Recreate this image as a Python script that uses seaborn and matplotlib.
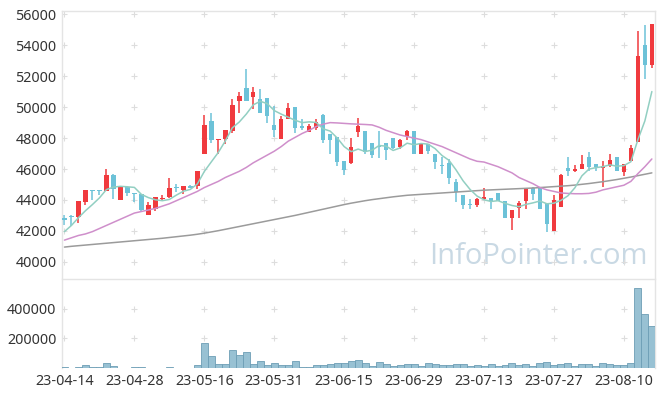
import matplotlib
matplotlib.use("Agg")
import matplotlib.pyplot as plt
import numpy as np
import pandas as pd
import seaborn as sns

# ── data (85 trading days) ───────────────────────────────────────────────────
tick_labels = ["23-04-14", "23-04-28", "23-05-16", "23-05-31", "23-06-15",
               "23-06-29", "23-07-13", "23-07-27", "23-08-10"]

opens = [42800, 42950, 42900, 43850, 44650, 44650, 44600, 45600, 44000, 44850,
         44450, 44400, 43050, 43400, 44050, 44200, 44800, 44650, 44900, 44900,
         47000, 49100, 47850, 47950, 48450, 50400, 51250, 50650, 50500, 50600,
         48850, 47950, 49250, 50000, 48750, 48400, 48650, 49500, 48250, 48100,
         46500, 46400, 48400, 48450, 47650, 47500, 47700, 48000, 47450, 48150,
         48450, 46950, 47600, 47000, 46250, 46400, 45150, 44300, 43700, 43650,
         44050, 44150, 44450, 43950, 42800, 43500, 43900, 44800, 44800, 43800,
         42000, 43550, 46050, 45900, 46000, 46750, 46300, 46050, 46200, 46800,
         45800, 46500, 47750, 54000, 52700]
highs = [43000, 43000, 43950, 44650, 44650, 44650, 46000, 45650, 44900, 44850,
         44450, 44400, 43850, 44200, 44350, 45400, 45050, 44900, 44950, 45900,
         49500, 49600, 47950, 48500, 50550, 50950, 52450, 51300, 51150, 50600,
         50050, 49400, 50300, 50000, 49250, 48900, 49250, 49550, 48250, 48100,
         46500, 48000, 49300, 48450, 47650, 48450, 47700, 48000, 47950, 48500,
         48450, 47700, 47600, 47000, 46800, 46650, 45350, 44300, 44050, 44150,
         44750, 44150, 44450, 43950, 43350, 43900, 44800, 44850, 44850, 43800,
         44350, 45700, 46800, 46250, 46900, 47100, 46300, 46500, 47000, 46800,
         46350, 47550, 54950, 55300, 55350]
lows = [42400, 42300, 42500, 43700, 44000, 44350, 44550, 44050, 44000, 44250,
        43850, 43250, 43000, 43300, 44000, 44150, 44500, 44400, 44750, 44700,
        47000, 47650, 47000, 47600, 48300, 49650, 50400, 49900, 49650, 49000,
        48100, 47950, 49250, 48300, 48500, 48400, 48550, 47650, 47000, 46200,
        45600, 46300, 48100, 46950, 46700, 46700, 46600, 47300, 47300, 47850,
        46950, 46950, 46950, 46000, 45700, 45000, 43850, 43400, 43400, 43550,
        44000, 43400, 43900, 42800, 42050, 42800, 43400, 44000, 43400, 41900,
        42000, 43550, 45550, 45800, 46000, 45850, 45850, 44850, 46100, 45850,
        45550, 46500, 47750, 51800, 52550]
closes = [42700, 42900, 43900, 44650, 44600, 44600, 45600, 44700, 44900, 44450,
          44400, 43350, 43650, 44200, 44150, 44800, 44750, 44900, 44800, 45900,
          48850, 47850, 47950, 48500, 50150, 50750, 50400, 50950, 49650, 49400,
          48500, 49250, 49950, 48650, 48650, 48750, 49050, 47900, 47900, 46450,
          45950, 47400, 48750, 47100, 46900, 47400, 47200, 47350, 47900, 48450,
          46950, 47600, 47150, 46450, 46200, 45400, 44500, 43650, 43650, 44050,
          44200, 43950, 43900, 42800, 43350, 43800, 44700, 44400, 43400, 42450,
          44000, 45600, 45900, 46000, 46300, 46150, 46100, 46200, 46600, 45850,
          46350, 47350, 53300, 52700, 55350]
volumes = [9000, 3000, 9000, 23000, 9000, 9000, 36000, 16000, 2000, 2000,
           9000, 9000, 2000, 2000, 2000, 9000, 2000, 2000, 2000, 23000,
           172000, 84000, 30000, 30000, 125000, 91000, 111000, 30000, 50000, 23000,
           36000, 23000, 23000, 50000, 9000, 9000, 23000, 23000, 30000, 36000,
           34000, 45000, 54000, 32000, 11000, 41000, 25000, 11000, 18000, 25000,
           25000, 11000, 32000, 25000, 18000, 18000, 25000, 25000, 11000, 18000,
           11000, 25000, 11000, 18000, 32000, 18000, 25000, 11000, 32000, 39000,
           18000, 25000, 32000, 11000, 25000, 25000, 11000, 32000, 25000, 18000,
           18000, 32000, 545000, 365000, 283000]

ma5 = [41950, 42350, 42850, 43300, 43700, 44130, 44670, 44830, 44880, 44850,
       44810, 44360, 44150, 44010, 43950, 44030, 44310, 44560, 44680, 45030,
       45840, 46460, 47070, 47810, 48660, 49040, 49550, 50150, 50380, 50230,
       49780, 49550, 49350, 49150, 49000, 49050, 49010, 48600, 48450, 48010,
       47450, 47120, 47290, 47130, 47220, 47520, 47480, 47200, 47360, 47670,
       47570, 47650, 47610, 47320, 46870, 46560, 45940, 45240, 44680, 44250,
       44010, 43900, 43950, 43780, 43640, 43560, 43710, 43810, 43930, 43750,
       43790, 43970, 44270, 44790, 45560, 45990, 46090, 46150, 46270, 46180,
       46220, 46470, 47890, 49110, 51010]
ma20 = [41400, 41550, 41700, 41800, 41950, 42150, 42350, 42550, 42750, 42950,
        43150, 43250, 43350, 43450, 43600, 43750, 43950, 44150, 44350, 44550,
        44800, 45000, 45200, 45450, 45650, 45850, 46100, 46400, 46650, 46900,
        47150, 47450, 47800, 48050, 48300, 48500, 48750, 48900, 49000, 48980,
        48950, 48920, 48900, 48880, 48850, 48700, 48500, 48350, 48200, 48100,
        48000, 47900, 47750, 47600, 47450, 47250, 47050, 46850, 46650, 46500,
        46450, 46300, 46150, 45950, 45750, 45450, 45250, 45050, 44800, 44650,
        44550, 44450, 44420, 44400, 44400, 44420, 44500, 44650, 44750, 44850,
        44950, 45200, 45700, 46150, 46650]
ma60 = [40950, 41000, 41040, 41080, 41120, 41160, 41200, 41240, 41280, 41320,
        41360, 41400, 41440, 41480, 41520, 41570, 41620, 41670, 41720, 41780,
        41850, 41930, 42010, 42100, 42190, 42280, 42370, 42460, 42550, 42640,
        42730, 42820, 42910, 43000, 43100, 43200, 43300, 43400, 43500, 43600,
        43700, 43790, 43870, 43950, 44020, 44080, 44140, 44200, 44250, 44300,
        44330, 44360, 44390, 44420, 44450, 44480, 44510, 44540, 44570, 44600,
        44630, 44650, 44670, 44690, 44710, 44730, 44750, 44770, 44800, 44830,
        44860, 44890, 44920, 44960, 45010, 45060, 45120, 45180, 45250, 45320,
        45400, 45480, 45570, 45660, 45750]

df = pd.DataFrame({"open": opens, "high": highs, "low": lows, "close": closes,
                   "volume": volumes, "ma5": ma5, "ma20": ma20, "ma60": ma60})
df["idx"] = np.arange(len(df))

UP_COLOR = "#f03a3e"
DOWN_COLOR = "#6cc2d8"
FRAME = "#e4e4e4"
TEXT = "#333333"

sns.set_theme(style="white")
plt.rcParams["font.family"] = ["Noto Sans", "DejaVu Sans"]

fig = plt.figure(figsize=(6.65, 3.97), dpi=100)
ax = fig.add_axes([62 / 665, 1 - 278 / 397, 593 / 665, 267 / 397])
ax_v = fig.add_axes([62 / 665, 1 - 368 / 397, 593 / 665, 89 / 397], sharex=ax)

# ── candles ──────────────────────────────────────────────────────────────────
colors = np.where(df["close"] >= df["open"], UP_COLOR, DOWN_COLOR)
body = (df["close"] - df["open"]).abs().clip(lower=60)
ax.vlines(df["idx"], df["low"], df["high"], colors=colors, linewidth=1.1, zorder=2)
ax.bar(df["idx"], body, bottom=df[["open", "close"]].min(axis=1), width=0.64,
       color=colors, linewidth=0, zorder=3)

# ── moving averages ──────────────────────────────────────────────────────────
sns.lineplot(data=df, x="idx", y="ma60", ax=ax, color="#9b9b9b", linewidth=1.1, zorder=4)
sns.lineplot(data=df, x="idx", y="ma20", ax=ax, color="#cf8fcb", linewidth=1.1, zorder=4)
sns.lineplot(data=df, x="idx", y="ma5", ax=ax, color="#92cfc2", linewidth=1.1, zorder=4)

# ── volume ───────────────────────────────────────────────────────────────────
ax_v.bar(df["idx"], df["volume"], width=1.0, color="#98c1d3", edgecolor="#6d9eb5",
         linewidth=0.6, zorder=3)

# ── axes cosmetics ───────────────────────────────────────────────────────────
xticks = np.arange(0, len(df), 10)
price_ticks = np.arange(40000, 56001, 2000)
vol_ticks = [200000, 400000]

ax.set_xlim(-0.35, 84.45)
ax.set_ylim(38950, 56220)
ax_v.set_ylim(0, 603000)

ax.set_yticks(price_ticks)
ax.set_yticklabels([str(v) for v in price_ticks])
ax_v.set_yticks(vol_ticks)
ax_v.set_yticklabels([str(v) for v in vol_ticks])
ax_v.set_xticks(xticks)
ax_v.set_xticklabels(tick_labels)
ax.tick_params(axis="x", labelbottom=False)

for a in (ax, ax_v):
    a.set_xlabel("")
    a.set_ylabel("")
    a.tick_params(length=0, labelsize=10.3, colors=TEXT)
    a.tick_params(axis="y", pad=4)
    a.tick_params(axis="x", pad=4)
    for s in a.spines.values():
        s.set_color(FRAME)
        s.set_linewidth(1.0)
    a.set_facecolor("none")
ax.spines["bottom"].set_visible(False)
ax_v.spines["bottom"].set_visible(False)

# grid drawn as small "+" marks at tick intersections
gx, gy = np.meshgrid(xticks, price_ticks)
ax.scatter(gx.ravel(), gy.ravel(), marker="+", s=22, color="#dddddd", linewidths=0.8, zorder=1)
gx, gy = np.meshgrid(xticks, vol_ticks)
ax_v.scatter(gx.ravel(), gy.ravel(), marker="+", s=22, color="#dddddd", linewidths=0.8, zorder=1)

# watermark
ax.text(0.988, 0.082, "InfoPointer.com", transform=ax.transAxes, ha="right", va="center",
        fontsize=21, color="#c9d9e4", family=["Open Sans", "DejaVu Sans"], zorder=0)

fig.savefig("out.png", dpi=100)
